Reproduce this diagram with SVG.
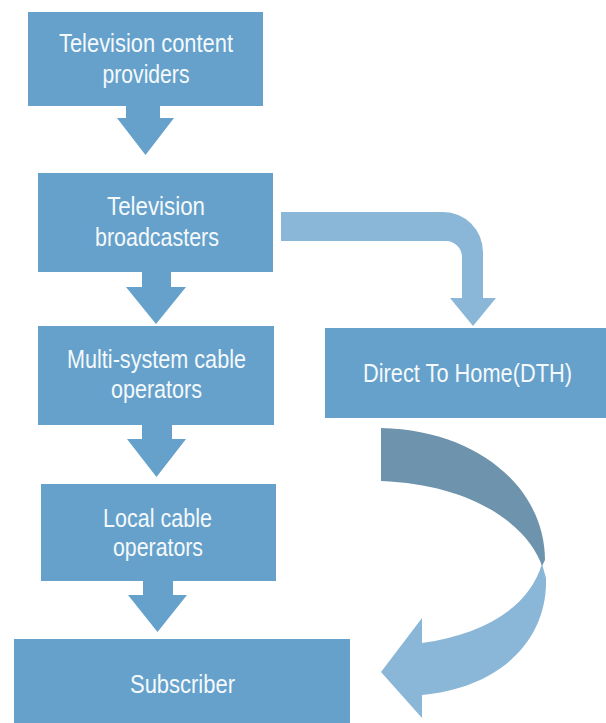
<svg xmlns="http://www.w3.org/2000/svg" width="606" height="723" viewBox="0 0 606 723">
<style>
.box{fill:#65A1CA}
.arr{fill:#65A1CA}
.lt{fill:#8AB7D7}
.dk{fill:#6E93AD}
text{font-family:"Liberation Sans Narrow","Liberation Sans",Arial,sans-serif;font-size:25px;fill:#F5F9FC;text-anchor:middle}
</style>
<rect width="606" height="723" fill="#FFFFFF"/>
<g id="connectors">
<path class="arr" d="M126,105 H160 V118 H174 L145.5,155 L117,118 H126 Z"/>
<path class="arr" d="M142,271 H171 V287 H186 L156,324 L126,287 H142 Z"/>
<path class="arr" d="M142,424 H172 V439 H186 L156.5,477 L127,439 H142 Z"/>
<path class="arr" d="M143,580 H173 V595 H187 L157.5,632 L128,595 H143 Z"/>
<path class="lt" d="M281,212 H443 A40,40 0 0 1 483,252 V298 H496 L473,326 L450,298 H462 V257 A16,16 0 0 0 446,241 H281 Z"/>
<path class="dk" d="M381,428 C480,430 545,490 545,560 L542,566 C530,530 480,485 381,481 Z"/>
<path class="lt" d="M542,564 L546,578 C548,640 500,688 422,695 L422,718 L381,672 L422,618 L422,643 C480,635 528,610 542,564 Z"/>
</g>
<g id="node-providers">
<rect class="box" x="28" y="12" width="235" height="94"/>
<text x="146" y="52" textLength="174" lengthAdjust="spacingAndGlyphs">Television content</text>
<text x="146" y="83" textLength="87" lengthAdjust="spacingAndGlyphs">providers</text>
</g>
<g id="node-broadcasters">
<rect class="box" x="38" y="173" width="235" height="99"/>
<text x="156" y="215" textLength="98" lengthAdjust="spacingAndGlyphs">Television</text>
<text x="157" y="246" textLength="124" lengthAdjust="spacingAndGlyphs">broadcasters</text>
</g>
<g id="node-mso">
<rect class="box" x="38" y="326" width="236" height="99"/>
<text x="156.5" y="368" textLength="179" lengthAdjust="spacingAndGlyphs">Multi-system cable</text>
<text x="156.5" y="398" textLength="91" lengthAdjust="spacingAndGlyphs">operators</text>
</g>
<g id="node-lco">
<rect class="box" x="41" y="484" width="235" height="97"/>
<text x="157.5" y="527" textLength="109" lengthAdjust="spacingAndGlyphs">Local cable</text>
<text x="158" y="556" textLength="90" lengthAdjust="spacingAndGlyphs">operators</text>
</g>
<g id="node-subscriber">
<rect class="box" x="14" y="639" width="336" height="84"/>
<text x="182.5" y="693" textLength="105" lengthAdjust="spacingAndGlyphs">Subscriber</text>
</g>
<g id="node-dth">
<rect class="box" x="325" y="328" width="281" height="90"/>
<text x="467.5" y="382" textLength="209" lengthAdjust="spacingAndGlyphs">Direct To Home(DTH)</text>
</g>
</svg>
